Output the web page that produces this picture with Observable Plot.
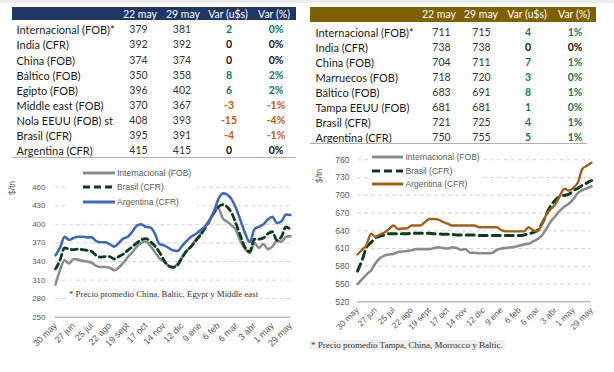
<!DOCTYPE html>
<html><head><meta charset="utf-8">
<script src="https://cdn.jsdelivr.net/npm/d3@7"></script>
<script src="https://cdn.jsdelivr.net/npm/@observablehq/plot@0.6"></script>
<style>
body{margin:0;background:#fff;}
#root{position:relative;width:614px;height:372px;overflow:hidden;font-family:Lato,"Liberation Sans",sans-serif;}
.abs{position:absolute;white-space:nowrap;}
.cell{position:absolute;transform:translate(-50%,-50%);white-space:nowrap;}
.lab{position:absolute;transform:translateY(-50%);white-space:nowrap;}
</style></head><body><div id="root"></div>
<script>
// ---------- table data ----------
const tableHeaders = ["22 may", "29 may", "Var (u$s)", "Var (%)"];

const leftNames = ["Internacional (FOB)*", "India (CFR)", "China (FOB)", "Báltico (FOB)", "Egipto (FOB)", "Middle east (FOB)", "Nola EEUU (FOB) st", "Brasil (CFR)", "Argentina (CFR)"];
const left22 = [379, 392, 374, 350, 396, 370, 408, 395, 415];
const left29 = [381, 392, 374, 358, 402, 367, 393, 391, 415];
const leftVar = [2, 0, 0, 8, 6, -3, -15, -4, 0];
const leftPct = ["0%", "0%", "0%", "2%", "2%", "-1%", "-4%", "-1%", "0%"];

const rightNames = ["Internacional (FOB)*", "India (CFR)", "China (FOB)", "Marruecos (FOB)", "Báltico (FOB)", "Tampa EEUU (FOB)", "Brasil (CFR)", "Argentina (CFR)"];
const right22 = [711, 738, 704, 718, 683, 681, 721, 750];
const right29 = [715, 738, 711, 720, 691, 681, 725, 755];
const rightVar = [4, 0, 7, 3, 8, 1, 4, 5];
const rightPct = ["1%", "0%", "1%", "0%", "1%", "0%", "1%", "1%"];

// ---------- chart data (weekly, 30 may .. 29 may) ----------
const xLabels = ["30 may", "27 jun", "25 jul", "22 ago", "19 sept", "17 oct", "14 nov", "12 dic", "9 ene", "6 feb", "6 mar", "3 abr", "1 may", "29 may"];
const seriesNames = ["Internacional (FOB)", "Brasil (CFR)", "Argentina (CFR)"];

const leftIntl = [303,326,342,337,344,343,341,340,338,333,331,331,330,326,330,338,347,355,364,370,372,365,355,345,340,333,330,336,347,357,364,375,383,395,406,418,426,410,404,398,390,372,360,354,370,362,368,360,364,373,372,380,381];
const leftBrasil = [328,342,362,360,359,360,359,358,356,350,347,348,348,344,348,352,358,364,370,375,377,372,365,355,342,333,331,334,346,357,364,373,382,393,405,418,428,432,428,418,400,380,362,356,376,376,378,385,388,374,380,396,391];
const leftArg = [350,362,380,375,378,380,380,379,379,373,371,371,368,364,370,377,380,388,398,400,396,395,385,368,366,362,358,357,365,373,380,384,390,396,405,420,440,450,448,440,425,405,385,371,392,396,400,408,412,402,405,416,415];
const leftYTicks = [250, 280, 310, 340, 370, 400, 430, 460];

const rightIntl = [550,558,566,573,585,594,598,600,601,604,605,606,607,609,609,609,609,611,612,611,610,612,611,608,609,603,603,602,602,602,603,608,610,611,612,613,615,617,618,622,626,632,644,656,665,674,681,686,694,704,709,712,715];
const rightBrasil = [572,590,612,620,628,631,633,635,635,635,635,635,636,636,636,636,636,635,635,634,634,634,633,633,633,633,633,632,632,632,632,632,632,632,632,632,632,633,635,637,641,652,668,683,692,698,700,702,708,712,717,721,725];
const rightArg = [600,608,616,635,630,634,637,643,649,643,644,644,649,649,649,655,660,660,659,655,652,649,649,649,649,649,649,646,646,646,646,646,641,639,639,639,639,639,646,641,639,651,668,677,685,700,711,708,713,722,745,750,755];
const rightYTicks = [520, 550, 580, 610, 640, 670, 700, 730, 760];

const leftCaption = "* Precio promedio China, Baltic, Egypt y Middle east";
const rightCaption = "* Precio promedio Tampa, China, Morrocco y Baltic.";

// ---------- helpers ----------
const root = document.getElementById("root");
function el(tag, cls, style, text) {
  const e = document.createElement(tag);
  if (cls) e.className = cls;
  Object.assign(e.style, style || {});
  if (text != null) e.textContent = text;
  root.appendChild(e);
  return e;
}

el("div", "abs", {left: "0px", top: "0px", width: "614px", height: "3px", background: "#ececec"});

const GREEN = "#17775a", ORANGE = "#c55a11";
function buildTable(cfg) {
  el("div", "abs", {left: cfg.x0 + "px", top: cfg.hTop + "px", width: (cfg.x1 - cfg.x0) + "px", height: (cfg.hBot - cfg.hTop) + "px", background: cfg.color});
  const hy = (cfg.hTop + cfg.hBot) / 2;
  tableHeaders.forEach((h, j) => el("div", "cell", {left: cfg.hx[j] + "px", top: hy + "px", color: "#fff", fontSize: "10.5px"}, h));
  cfg.names.forEach((n, i) => {
    const y = cfg.y0 + i * cfg.dy;
    el("div", "lab", {left: cfg.labelX + "px", top: y + "px", color: "#1a1a1a", fontSize: "11px"}, n);
    el("div", "cell", {left: cfg.cx[0] + "px", top: y + "px", color: "#333", fontSize: "10.5px"}, String(cfg.a[i]));
    el("div", "cell", {left: cfg.cx[1] + "px", top: y + "px", color: "#333", fontSize: "10.5px"}, String(cfg.b[i]));
    const v = cfg.v[i];
    const col = v > 0 ? GREEN : v < 0 ? ORANGE : "#111";
    el("div", "cell", {left: cfg.cx[2] + "px", top: y + "px", color: col, fontSize: "10.5px", fontWeight: "bold"}, String(v));
    el("div", "cell", {left: cfg.cx[3] + "px", top: y + "px", color: col, fontSize: "10.5px", fontWeight: "bold"}, cfg.p[i]);
  });
  el("div", "abs", {left: cfg.x0 + "px", top: cfg.bottom + "px", width: (cfg.bx1 - cfg.x0) + "px", height: "1px", background: "#b0b0b0"});
}

buildTable({x0: 12, x1: 296, hTop: 7, hBot: 20, color: "#203764", hx: [140, 183, 228, 274], cx: [138.5, 182, 229, 276],
  names: leftNames, a: left22, b: left29, v: leftVar, p: leftPct, y0: 29.3, dy: 15.1, labelX: 16.5, bottom: 156.5, bx1: 296});
buildTable({x0: 310, x1: 596, hTop: 7, hBot: 21.5, color: "#7f6000", hx: [439, 481, 527, 574], cx: [441.5, 481.5, 528, 575],
  names: rightNames, a: right22, b: right29, v: rightVar, p: rightPct, y0: 31.7, dy: 15.1, labelX: 315.5, bottom: 142.5, bx1: 587});

// ---------- charts ----------
const weeks = d3.range(53);
const xTickWeeks = d3.range(0, 53, 4);
function lineChart(o) {
  const marks = [
    Plot.gridY(o.yTicks.slice(1), {stroke: "#d4d4d4", strokeOpacity: 1, strokeDasharray: "4,3", strokeWidth: 1}),
    Plot.ruleY([o.yTicks[0]], {stroke: "#bdbdbd", strokeWidth: 1.5}),
    Plot.axisY(o.yTicks, {tickSize: 0, tickPadding: o.yPad, fontSize: o.yFont, label: null}),
    Plot.axisX(xTickWeeks, {tickSize: 0, tickRotate: -45, tickPadding: 7, fontSize: o.xFont, label: null, tickFormat: d => xLabels[d / 4]})
  ];
  o.series.forEach((s, i) => marks.push(Plot.line(weeks, {x: d => d, y: d => s[d], stroke: o.colors[i], strokeWidth: o.widths[i], strokeDasharray: o.dashes[i], curve: "monotone-x"})));
  return Plot.plot({
    width: o.W, height: o.H, marginLeft: o.mL, marginRight: o.mR, marginTop: o.mT, marginBottom: o.mB,
    x: {domain: [0, 52]}, y: {domain: [o.yTicks[0], o.yTicks[o.yTicks.length - 1]]},
    style: {background: "transparent", overflow: "visible", color: "#595959", fontFamily: "'Liberation Sans', Arial, sans-serif"},
    marks
  });
}

function place(node, x, y) {
  const d = el("div", "abs", {left: x + "px", top: y + "px"});
  d.appendChild(node);
}

const leftColors = ["#8c8c8c", "#0c3b1d", "#4169b8"];
const rightColors = ["#8c8c8c", "#0c3b1d", "#a0601e"];

place(lineChart({series: [leftIntl, leftBrasil, leftArg], colors: leftColors, widths: [2.6, 2.8, 2.6], dashes: [null, "6,4", null],
  yTicks: leftYTicks, W: 300, H: 200, mL: 55, mR: 10, mT: 26.7, mB: 43.3, yPad: 10, yFont: 8, xFont: 9}), 0, 160);
place(lineChart({series: [rightIntl, rightBrasil, rightArg], colors: rightColors, widths: [2.6, 3, 2.4], dashes: [null, "8,5", null],
  yTicks: rightYTicks, W: 310, H: 200, mL: 57, mR: 19, mT: 19.3, mB: 38.7, yPad: 8, yFont: 8.5, xFont: 8.5}), 300, 140);

// y labels
el("div", "abs", {left: "12px", top: "188px", transform: "translate(-50%,-50%) rotate(-90deg)", fontSize: "8.5px", color: "#595959", fontFamily: "'Liberation Sans', sans-serif"}, "$/tn");
el("div", "abs", {left: "319px", top: "176px", transform: "translate(-50%,-50%) rotate(-90deg)", fontSize: "8.5px", color: "#595959", fontFamily: "'Liberation Sans', sans-serif"}, "$/tn");

// legends
function legend(box, lineX0, lineX1, textX, ys, colors, dashes) {
  el("div", "abs", {left: box[0] + "px", top: box[1] + "px", width: (box[2] - box[0]) + "px", height: (box[3] - box[1]) + "px", background: "#fff"});
  seriesNames.forEach((n, i) => {
    const svg = document.createElementNS("http://www.w3.org/2000/svg", "svg");
    svg.setAttribute("width", lineX1 - lineX0); svg.setAttribute("height", 6);
    svg.style.position = "absolute"; svg.style.left = lineX0 + "px"; svg.style.top = (ys[i] - 3) + "px";
    const ln = document.createElementNS("http://www.w3.org/2000/svg", "line");
    ln.setAttribute("x1", 0); ln.setAttribute("x2", lineX1 - lineX0); ln.setAttribute("y1", 3); ln.setAttribute("y2", 3);
    ln.setAttribute("stroke", colors[i]); ln.setAttribute("stroke-width", 3);
    if (dashes[i]) ln.setAttribute("stroke-dasharray", dashes[i]);
    svg.appendChild(ln); root.appendChild(svg);
    el("div", "lab", {left: textX + "px", top: ys[i] + "px", fontSize: "8.5px", color: "#595959", fontFamily: "'Liberation Sans', sans-serif"}, n);
  });
}
legend([66, 165, 197, 209], 83, 115, 117, [172.7, 187.3, 201.7], leftColors, [null, "7,4", null]);
legend([368, 150, 482, 191], 372, 403, 405.5, [156.7, 171, 184], rightColors, [null, "8,4", null]);

// captions
el("div", "abs", {left: "67px", top: "294px", transform: "translateY(-50%)", fontSize: "8.8px", color: "#333", background: "#fff", padding: "0 2px", fontFamily: "'Liberation Serif', serif"}, leftCaption);
el("div", "abs", {left: "309px", top: "345px", transform: "translateY(-50%)", fontSize: "9px", color: "#333", background: "#f0f0f0", padding: "0 2px", fontFamily: "'Liberation Serif', serif"}, rightCaption);
</script></body></html>
